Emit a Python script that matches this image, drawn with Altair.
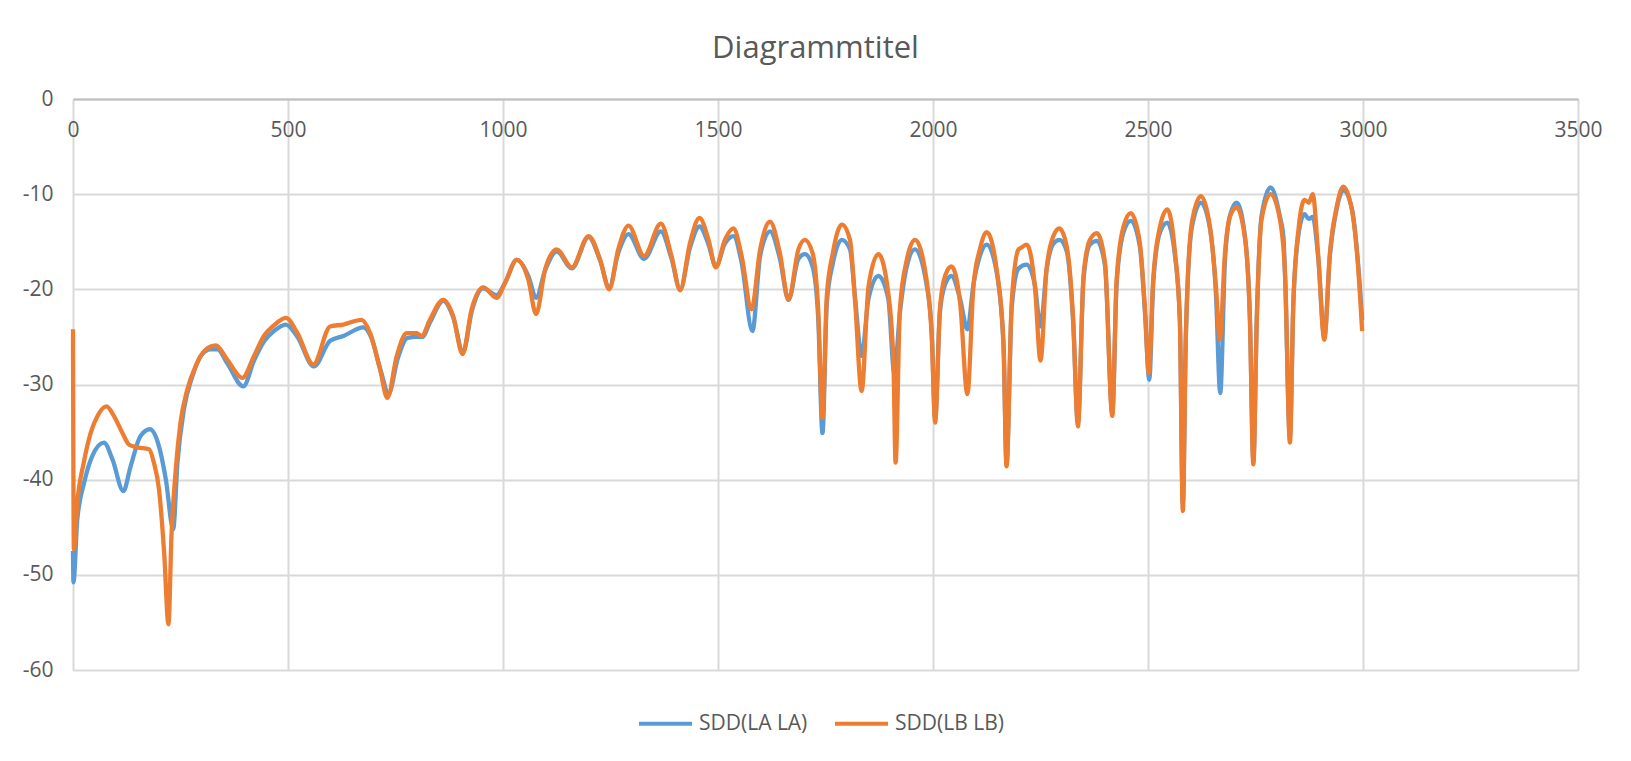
import altair as alt
import pandas as pd

# ---- data ----
series_names = ["SDD(LA LA)", "SDD(LB LB)"]
series_colors = ["#5B9BD5", "#ED7D31"]
x_ticks = [0, 500, 1000, 1500, 2000, 2500, 3000, 3500]
y_ticks = [0, -10, -20, -30, -40, -50, -60]

la_x = [0, 1, 10, 26, 45, 72, 92, 117, 134, 157, 179, 200, 216, 233, 243, 258, 278, 297, 320, 336,
        359, 396, 421, 444, 467, 495, 522, 560, 598, 629, 675, 693, 716, 734, 755, 778, 800, 812, 831, 861,
        884, 907, 928, 954, 985, 1005, 1032, 1059, 1077, 1098, 1125, 1160, 1199, 1226, 1247, 1268, 1292, 1328, 1367, 1392,
        1412, 1435, 1457, 1478, 1495, 1516, 1536, 1555, 1580, 1598, 1621, 1644, 1664, 1687, 1702, 1720, 1733, 1743, 1753, 1767,
        1788, 1807, 1819, 1834, 1850, 1873, 1896, 1910, 1923, 1939, 1958, 1985, 1997, 2005, 2016, 2028, 2043, 2063, 2080, 2094,
        2109, 2125, 2148, 2164, 2171, 2183, 2199, 2218, 2237, 2250, 2264, 2280, 2294, 2311, 2326, 2337, 2350, 2365, 2381, 2400,
        2417, 2427, 2443, 2460, 2481, 2493, 2503, 2512, 2528, 2545, 2563, 2574, 2581, 2588, 2602, 2623, 2644, 2658, 2668, 2679,
        2691, 2706, 2726, 2737, 2745, 2753, 2764, 2785, 2807, 2815, 2819, 2830, 2838, 2850, 2864, 2874, 2883, 2896, 2910, 2923,
        2939, 2954, 2974, 2989, 2998]
la_y = [-47.5, -50.8, -44.2, -40.3, -37.5, -36.1, -37.9, -41.2, -38.6, -35.4, -34.7, -36.5, -40, -45.2, -38.2, -32.6, -29.1, -27, -26.3, -26.3,
        -27.8, -30.2, -27.5, -25.5, -24.4, -23.7, -25, -28.1, -25.4, -24.9, -24, -25, -28.6, -31, -27.3, -25.1, -25, -25, -23.4, -21.2,
        -22.9, -26.6, -22.2, -19.9, -20.6, -19.3, -16.9, -18.6, -20.9, -18, -16, -17.8, -14.5, -17, -19.8, -16.2, -14.2, -16.8, -13.9, -16.8,
        -20, -15.6, -13.4, -15.3, -17.6, -15.2, -14.4, -17.2, -24.4, -16.5, -13.9, -16.8, -21.1, -16.8, -16.3, -17.6, -23, -35.1, -21.5, -17.3,
        -14.8, -15.8, -21, -27, -21, -18.6, -21, -28.8, -22.5, -17.6, -15.8, -19.5, -24.5, -33.6, -22.5, -19.5, -18.6, -21, -24.2, -19.5,
        -16.5, -15.3, -18.2, -26, -38.4, -22, -17.8, -17.4, -19.6, -23.9, -18, -15.2, -14.8, -16, -23.5, -34, -19, -15.3, -14.9, -17.5,
        -33, -19.5, -14, -12.8, -15.5, -22.5, -29.5, -19.5, -14, -13, -16.6, -23, -42.5, -25, -13.5, -10.9, -13.6, -20.5, -30.9, -17,
        -12.2, -10.9, -14.6, -23, -38, -23, -12.3, -9.3, -12.4, -14.5, -19, -35.5, -21.5, -14.2, -12.1, -12.6, -12.4, -16.8, -25, -16.5,
        -11.5, -9.6, -11.5, -17.5, -23.2]

lb_x = [0, 2, 10, 25, 41, 57, 78, 95, 115, 130, 150, 177, 188, 200, 212, 222, 229, 239, 250, 266,
        285, 305, 332, 359, 394, 421, 444, 467, 495, 522, 559, 598, 629, 671, 691, 714, 731, 753, 776, 799,
        811, 830, 861, 884, 906, 927, 954, 985, 1005, 1032, 1059, 1077, 1098, 1125, 1160, 1199, 1226, 1247, 1268, 1292,
        1328, 1367, 1392, 1412, 1435, 1457, 1478, 1495, 1516, 1536, 1555, 1578, 1598, 1621, 1644, 1664, 1687, 1702, 1720, 1733,
        1743, 1753, 1767, 1788, 1807, 1819, 1834, 1850, 1873, 1896, 1908, 1913, 1923, 1939, 1958, 1985, 1997, 2005, 2016, 2028,
        2043, 2063, 2080, 2094, 2109, 2125, 2148, 2164, 2171, 2183, 2199, 2206, 2218, 2237, 2250, 2264, 2280, 2294, 2311, 2326,
        2337, 2350, 2365, 2381, 2400, 2417, 2427, 2443, 2460, 2481, 2493, 2502, 2512, 2528, 2545, 2563, 2574, 2581, 2588, 2602,
        2623, 2644, 2658, 2667, 2679, 2691, 2706, 2726, 2737, 2745, 2753, 2764, 2785, 2807, 2819, 2830, 2838, 2850, 2864, 2874,
        2883, 2896, 2910, 2923, 2939, 2954, 2974, 2989, 2998]
lb_y = [-24.2, -47.3, -42.4, -38.2, -35.1, -33.3, -32.3, -33.3, -35.1, -36.3, -36.6, -36.8, -38.2, -41, -47.7, -55.2, -45.9, -38.9, -34, -30.5,
        -28.1, -26.5, -25.9, -27.4, -29.3, -27, -24.9, -23.8, -23, -24.6, -27.9, -23.9, -23.7, -23.2, -24.6, -28.4, -31.4, -27, -24.6, -24.6,
        -24.9, -23.2, -21.1, -22.8, -26.8, -22.1, -19.8, -20.9, -19.3, -16.9, -19, -22.6, -17.9, -15.8, -17.7, -14.4, -16.9, -20, -15.8, -13.3,
        -16.5, -13.1, -16.5, -20.1, -15.1, -12.5, -14.8, -17.7, -14.8, -13.6, -16.5, -22.1, -15.8, -12.9, -16.2, -21.1, -15.8, -14.8, -16.2, -22.1,
        -33.5, -20.7, -16.2, -13.2, -14.8, -21.4, -30.7, -19.7, -16.3, -20.4, -27.7, -38.2, -22.1, -16.9, -14.8, -19, -24.9, -34, -22.1, -18.6,
        -17.6, -21.4, -31, -19.7, -15.8, -14, -17.9, -25.6, -38.6, -21.4, -15.8, -15.6, -15.3, -19.7, -27.5, -17.9, -14.4, -13.6, -15.5, -23.2,
        -34.4, -18.6, -14.8, -14.1, -17.2, -33.3, -19, -13.4, -12, -15.1, -22.1, -28.8, -19, -13.4, -11.6, -16.2, -23.2, -43.3, -24.9, -13,
        -10.2, -13.4, -19.7, -25.3, -16.2, -12.3, -11.4, -14.8, -23.2, -38.4, -23.2, -12.7, -10, -12.7, -18.6, -36.1, -21.4, -13.7, -10.6, -10.9,
        -10, -16.5, -25.3, -16.2, -11.3, -9.2, -11.6, -17.9, -24.4]

df = pd.concat([
    pd.DataFrame({"x": la_x, "y": la_y, "series": series_names[0], "k": 0}),
    pd.DataFrame({"x": lb_x, "y": lb_y, "series": series_names[1], "k": 1}),
], ignore_index=True)

FONT = "Open Sans"
GRID = "#d9d9d9"
TEXT = "#595959"

chart = alt.Chart(df).mark_line(strokeWidth=4.3, interpolate="monotone").encode(
    x=alt.X("x:Q",
            scale=alt.Scale(domain=[0, 3500], nice=False, zero=False),
            axis=alt.Axis(orient="top", values=x_ticks, title=None, ticks=False, tickSize=0,
                          labelExpr="'' + datum.value",
                          labelPadding=-31, labelBaseline="middle", labelAlign="center",
                          labelFont=FONT, labelFontSize=21, labelColor=TEXT,
                          domain=True, domainColor="#bfbfbf", domainWidth=2,
                          grid=True, gridColor=GRID, gridWidth=2, labelFlush=False)),
    y=alt.Y("y:Q",
            scale=alt.Scale(domain=[-60, 0], nice=False, zero=False),
            axis=alt.Axis(orient="left", values=y_ticks, title=None, ticks=False, tickSize=0,
                          labelExpr="'' + datum.value",
                          labelPadding=20, labelFont=FONT, labelFontSize=21, labelColor=TEXT,
                          domain=False, grid=True, gridColor=GRID, gridWidth=2)),
    color=alt.Color("series:N",
                    scale=alt.Scale(domain=series_names, range=series_colors),
                    legend=alt.Legend(orient="none", legendX=564, legendY=596, direction="horizontal",
                                      title=None, symbolType="stroke", symbolSize=2809,
                                      symbolStrokeWidth=4, labelFont=FONT, labelFontSize=21,
                                      labelColor=TEXT, labelOffset=5, columnPadding=19, padding=0)),
    detail="k:N",
).properties(
    width=1505,
    height=571,
    title=alt.TitleParams("Diagrammtitel", font=FONT, fontSize=31, fontWeight="normal",
                          color=TEXT, anchor="middle", dx=-10, dy=33, offset=32, baseline="alphabetic"),
    padding={"left": 65, "top": 91, "right": 40, "bottom": 83},
    autosize=alt.AutoSizeParams(type="none"),
).configure_view(stroke=None).configure(background="white")

chart.save("out.html", embed_options={"renderer": "svg", "actions": False})
